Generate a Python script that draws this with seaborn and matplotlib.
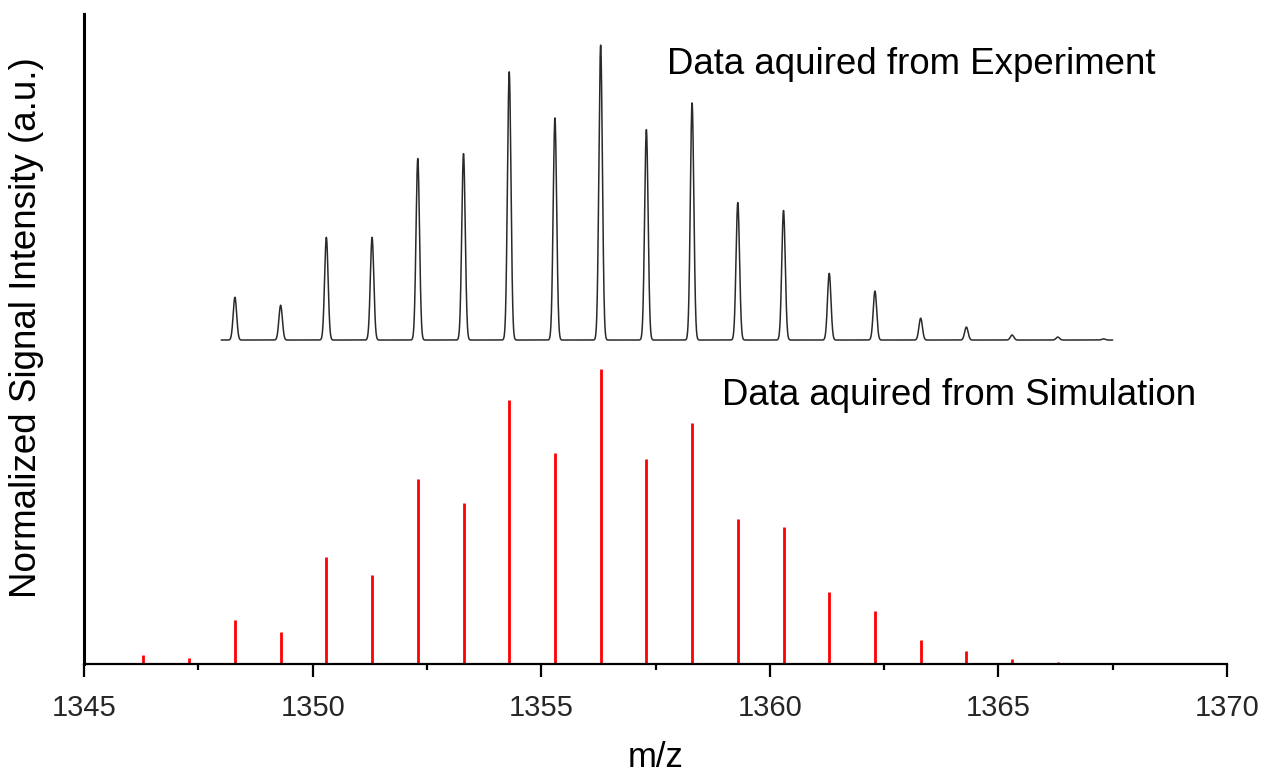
import numpy as np
import pandas as pd
import matplotlib
matplotlib.use("Agg")
import matplotlib.pyplot as plt
from matplotlib.ticker import MultipleLocator
import seaborn as sns

# isotope peak positions (m/z)
sim_mz = [1346.3, 1347.3, 1348.3, 1349.3, 1350.3, 1351.3, 1352.3, 1353.3,
          1354.3, 1355.3, 1356.3, 1357.3, 1358.3, 1359.3, 1360.3, 1361.3,
          1362.3, 1363.3, 1364.3, 1365.3, 1366.3, 1367.3, 1368.3, 1369.3]
# simulated relative intensities (max = 100)
sim_int = [3.0, 2.0, 14.9, 10.8, 36.3, 30.2, 62.7, 54.6,
           89.5, 71.5, 100.0, 69.5, 81.7, 49.2, 46.4, 24.4,
           18.0, 8.1, 4.4, 1.7, 0.7, 0.4, 0.3, 0.3]

# experimental peaks (max = 100), drawn shifted upward
exp_mz = [1348.3, 1349.3, 1350.3, 1351.3, 1352.3, 1353.3, 1354.3, 1355.3,
          1356.3, 1357.3, 1358.3, 1359.3, 1360.3, 1361.3, 1362.3, 1363.3,
          1364.3, 1365.3, 1366.3, 1367.3]
exp_int = [14.5, 11.8, 34.8, 34.8, 61.5, 63.2, 90.9, 75.3,
           100.0, 71.3, 80.4, 46.6, 43.9, 22.6, 16.6, 7.4,
           4.4, 1.7, 1.0, 0.4]
exp_range = [1348.0, 1367.5]
exp_offset = 109.8
peak_sigma = 0.038


def main():
    sns.set_theme(style="white")
    plt.rcParams["font.family"] = ["Liberation Sans", "DejaVu Sans"]

    # experimental trace: narrow peak profile at each measured peak
    x = np.linspace(exp_range[0], exp_range[1], 6000)
    y = np.full_like(x, exp_offset)
    for c, h in zip(exp_mz, exp_int):
        y += h * np.exp(-(x - c) ** 2 / (2 * peak_sigma ** 2))
    exp_df = pd.DataFrame({"mz": x, "signal": y})

    fig = plt.figure(figsize=(12.64, 7.73), dpi=100)
    ax = fig.add_axes([0.0665, 0.141, 0.9042, 0.8409])

    sns.lineplot(data=exp_df, x="mz", y="signal", ax=ax, color="#2a2a2a",
                 linewidth=1.1, estimator=None, sort=False)
    ax.vlines(sim_mz, 0, sim_int, color="red", linewidth=2.0)

    ax.set_xlim(1345, 1370)
    ax.set_ylim(0, 220.3)
    ax.xaxis.set_major_locator(MultipleLocator(5))
    ax.xaxis.set_minor_locator(MultipleLocator(2.5))
    ax.set_yticks([])
    ax.tick_params(axis="x", which="major", direction="out", length=9.5,
                   width=1.6, color="black", labelsize=21, pad=12,
                   bottom=True)
    ax.tick_params(axis="x", which="minor", direction="out", length=4.5,
                   width=1.6, color="black", bottom=True)

    for side in ["top", "right"]:
        ax.spines[side].set_visible(False)
    ax.spines["left"].set_linewidth(2.2)
    ax.spines["bottom"].set_linewidth(1.6)
    ax.spines["left"].set_color("black")
    ax.spines["bottom"].set_color("black")

    ax.set_xlabel("m/z", fontsize=25, color="black")
    ax.set_ylabel("Normalized Signal Intensity (a.u.)", fontsize=26.5, color="black")
    ax.xaxis.set_label_coords(0.5, -0.118)
    ax.yaxis.set_label_coords(-0.035, 0.517)

    ax.text(1357.76, 200, "Data aquired from Experiment", fontsize=26.4,
            va="baseline", ha="left", color="black")
    ax.text(1358.96, 87.8, "Data aquired from Simulation", fontsize=26.4,
            va="baseline", ha="left", color="black")

    fig.savefig("out.png", dpi=100)
    plt.close(fig)


if __name__ == "__main__":
    main()
